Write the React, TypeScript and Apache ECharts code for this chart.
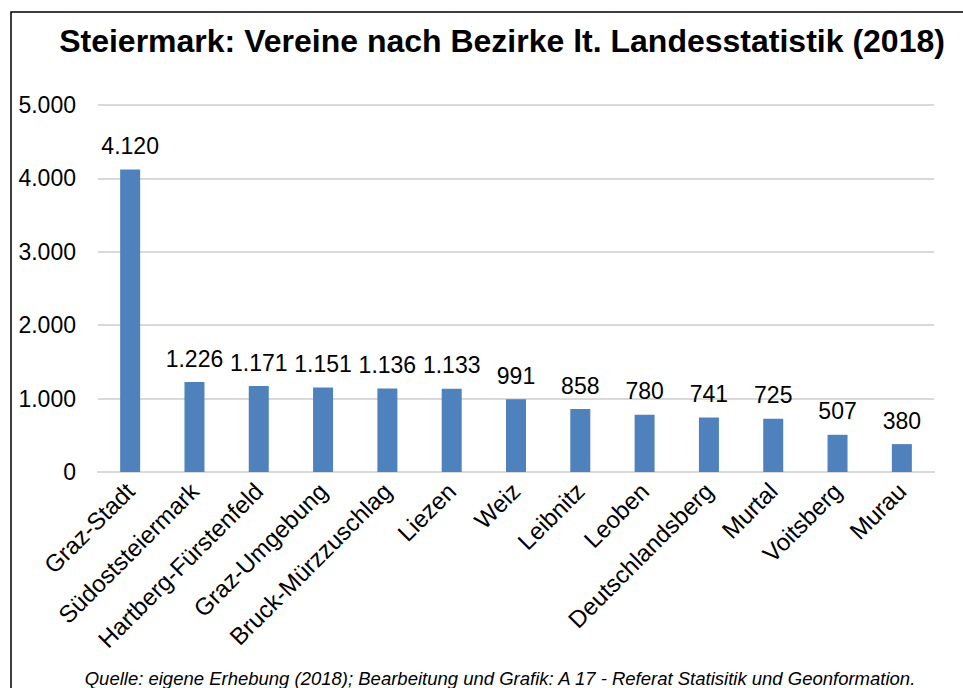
import React, { useEffect, useRef } from "react";
import * as echarts from "echarts";

const categories = [
  "Graz-Stadt",
  "Südoststeiermark",
  "Hartberg-Fürstenfeld",
  "Graz-Umgebung",
  "Bruck-Mürzzuschlag",
  "Liezen",
  "Weiz",
  "Leibnitz",
  "Leoben",
  "Deutschlandsberg",
  "Murtal",
  "Voitsberg",
  "Murau",
];
const values = [4120, 1226, 1171, 1151, 1136, 1133, 991, 858, 780, 741, 725, 507, 380];

const titleText = "Steiermark: Vereine nach Bezirke lt. Landesstatistik (2018)";
const sourceText =
  "Quelle: eigene Erhebung (2018); Bearbeitung und Grafik: A 17 - Referat Statisitik und Geonformation.";

const fmt = (v: number) => String(v).replace(/\B(?=(\d{3})+(?!\d))/g, ".");

export default function App() {
  const ref = useRef<HTMLDivElement>(null);
  useEffect(() => {
    if (!ref.current) return;
    const chart = echarts.init(ref.current, null, { renderer: "svg" });
    const font = "Arial, 'Liberation Sans', sans-serif";
    chart.setOption({
      animation: false,
      backgroundColor: "#fff",
      textStyle: { fontFamily: font },
      title: {
        text: titleText,
        left: 497,
        textAlign: "center",
        top: 20,
        textStyle: { fontFamily: font, fontSize: 32, fontWeight: "bold", color: "#000" },
      },
      grid: { left: 98, right: 29, top: 105, bottom: 216, containLabel: false },
      xAxis: {
        type: "category",
        data: categories,
        axisLine: { show: true, lineStyle: { color: "#d9d9d9", width: 2 } },
        axisTick: { show: false },
        axisLabel: {
          rotate: 45,
          interval: 0,
          margin: 15,
          fontSize: 24,
          color: "#000",
          fontFamily: font,
        },
      },
      yAxis: {
        type: "value",
        min: 0,
        max: 5000,
        interval: 1000,
        axisLine: { show: false },
        axisTick: { show: false },
        splitLine: { lineStyle: { color: "#d9d9d9", width: 2 } },
        axisLabel: {
          fontSize: 23,
          color: "#000",
          margin: 22,
          fontFamily: font,
          formatter: (v: number) => fmt(v),
        },
      },
      series: [
        {
          type: "bar",
          data: values,
          barWidth: 20,
          itemStyle: { color: "#4f81bd" },
          label: {
            show: true,
            position: "top",
            distance: 12,
            fontSize: 23,
            color: "#000",
            fontFamily: font,
            formatter: (p: any) => fmt(p.value),
          },
        },
      ],
      graphic: [
        {
          type: "rect",
          shape: { x: 11, y: 12, width: 1000, height: 1000 },
          style: { fill: "none", stroke: "#000", lineWidth: 1.5 },
          silent: true,
        },
        {
          type: "text",
          x: 500,
          y: 688,
          style: {
            text: sourceText,
            fontFamily: font,
            fontSize: 18.5,
            fontStyle: "italic",
            fill: "#000",
            textAlign: "center",
            textVerticalAlign: "bottom",
          },
        },
      ],
    });
    return () => chart.dispose();
  }, []);
  return (
    <div
      ref={ref}
      style={{ position: "absolute", left: 0, top: 0, width: 963, height: 688 }}
    />
  );
}
